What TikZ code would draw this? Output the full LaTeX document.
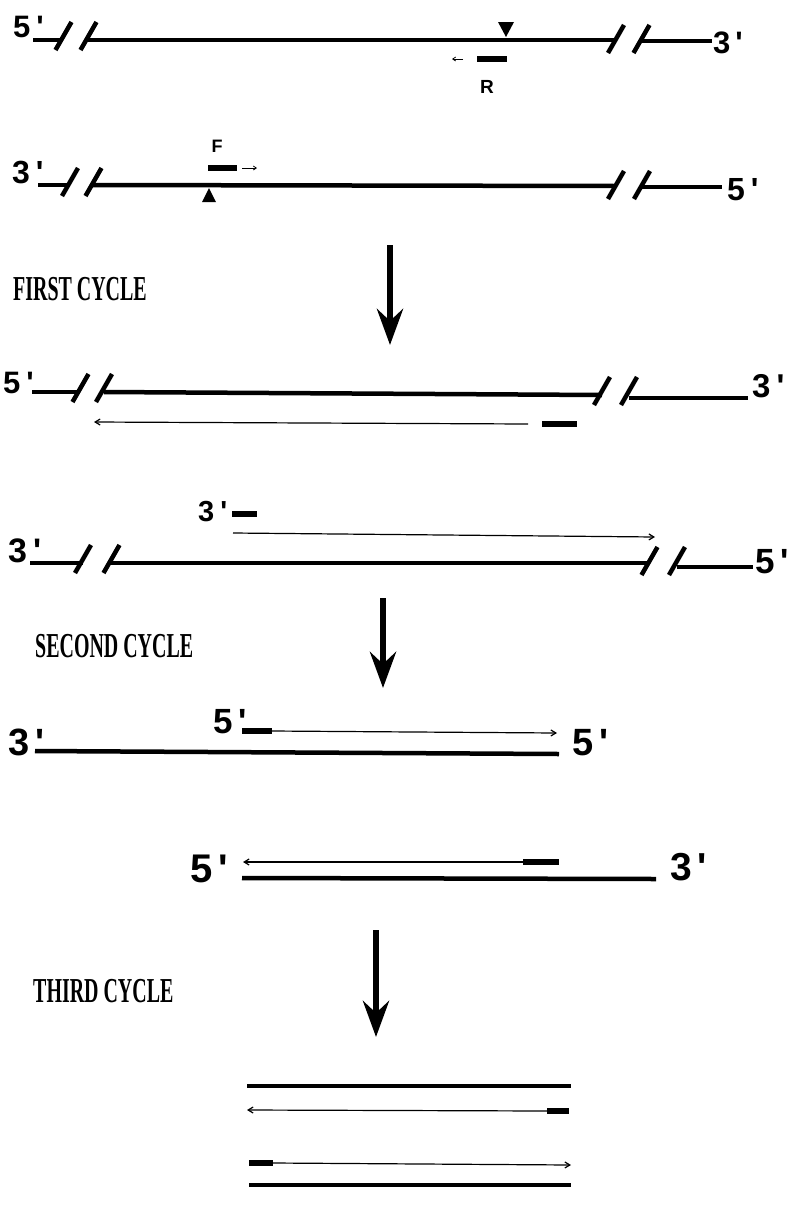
\documentclass[tikz,border=0pt]{standalone}
\usepackage{fontspec}
\usepackage{graphicx}
\usetikzlibrary{arrows.meta,calc}
\newfontfamily\labfont{Liberation Sans}
\newfontfamily\cyclefont{Liberation Serif}
\newcommand\strandlab[2]{{\fontsize{#1}{#1}\selectfont\labfont\bfseries #2}}
\newcommand\cyclelab[1]{\scalebox{0.57}[1]{\fontsize{35}{35}\selectfont\cyclefont\bfseries #1}}
\newcommand\breakat[1]{\draw[breakmark] ($(#1)+(-8,14)$) -- ($(#1)+(8,-14)$);}

\tikzset{
  strand/.style={line width=4.5pt},
  stub/.style={line width=3.5pt},
  breakmark/.style={line width=4.5pt},
  primer/.style={line width=5.5pt},
  newstrand/.style={line width=1.2pt,-{Straight Barb[length=5pt,width=6pt]}},
  tinyarrow/.style={line width=0.8pt,-{Straight Barb[length=3pt,width=4pt]}},
  cyclearrow/.style={line width=6pt,-{Stealth[length=36pt,width=26pt,inset=12pt]}},
  endlabel/.style={inner sep=0pt,anchor=base west},
  cyclelabel/.style={inner sep=0pt,anchor=base west},
  site/.style={fill=black},
}

\begin{document}
\begin{tikzpicture}[x=1pt,y=-1pt]
\useasboundingbox (0,0) rectangle (796,1208);

% ---------- template, top strand ----------
\node[endlabel] (t1l) at (13,37) {\strandlab{31}{5\kern6pt'}};
\node[endlabel] (t1r) at (713,53) {\strandlab{31}{3\kern5pt'}};
\coordinate (t1a) at (33,40);   \coordinate (t1b) at (63,40);
\coordinate (t1c) at (88,40);   \coordinate (t1d) at (616,40);
\coordinate (t1e) at (641,41);  \coordinate (t1f) at (712,41);
\draw[stub] (t1a) -- (t1b);
\draw[strand] (t1c) -- (t1d);
\draw[stub] (t1e) -- (t1f);
\coordinate (t1s1) at (63.5,36); \coordinate (t1s2) at (88.5,36);
\coordinate (t1s3) at (616,39);  \coordinate (t1s4) at (641.5,39);
\breakat{t1s1}\breakat{t1s2}\breakat{t1s3}\breakat{t1s4}
% reverse primer site and primer R
\coordinate (siteR) at (506,37);
\fill[site] (siteR) -- ++(-8,-15) -- ++(16,0) -- cycle;
\coordinate (Ra) at (477,59); \coordinate (Rb) at (507,59);
\draw[primer] (Ra) -- (Rb);
\coordinate (Rt) at (452,59); \coordinate (Rs) at (463,59);
\draw[tinyarrow] (Rs) -- (Rt);
\node[inner sep=0pt] (R) at (487,87) {\strandlab{19}{R}};

% ---------- template, bottom strand ----------
\node[endlabel] (t2l) at (12,183) {\strandlab{32}{3\kern6pt'}};
\node[endlabel] (t2r) at (727,200) {\strandlab{32}{5\kern6pt'}};
\coordinate (t2a) at (38,185);  \coordinate (t2b) at (70,185);
\coordinate (t2c) at (93,185);  \coordinate (t2d) at (616,186);
\coordinate (t2e) at (642,187); \coordinate (t2f) at (722,187);
\draw[stub] (t2a) -- (t2b);
\draw[strand] (t2c) -- (t2d);
\draw[stub] (t2e) -- (t2f);
\coordinate (t2s1) at (70,182);  \coordinate (t2s2) at (93.5,182);
\coordinate (t2s3) at (616,185); \coordinate (t2s4) at (642,185);
\breakat{t2s1}\breakat{t2s2}\breakat{t2s3}\breakat{t2s4}
% forward primer site and primer F
\coordinate (siteF) at (209,188);
\fill[site] (siteF) -- ++(-7,14) -- ++(14,0) -- cycle;
\coordinate (Fa) at (208,168); \coordinate (Fb) at (237,168);
\draw[primer] (Fa) -- (Fb);
\coordinate (Fs) at (242,168); \coordinate (Ft) at (257,168);
\draw[tinyarrow] (Fs) -- (Ft);
\node[inner sep=0pt] (F) at (217,146) {\strandlab{18}{F}};

% ---------- first cycle ----------
\node[cyclelabel] (first) at (13,300) {\cyclelab{FIRST CYCLE}};
\coordinate (ar1a) at (390,245); \coordinate (ar1b) at (390,345);
\draw[cyclearrow] (ar1a) -- (ar1b);

\node[endlabel] (c1l) at (3,393) {\strandlab{31}{5\kern6pt'}};
\node[endlabel] (c1r) at (752,397) {\strandlab{33}{3\kern6pt'}};
\coordinate (c1a) at (32,392);  \coordinate (c1b) at (80,392);
\coordinate (c1c) at (104,392); \coordinate (c1d) at (602,395);
\coordinate (c1e) at (629,398); \coordinate (c1f) at (748,398);
\draw[stub] (c1a) -- (c1b);
\draw[strand] (c1c) -- (c1d);
\draw[stub] (c1e) -- (c1f);
\coordinate (c1s1) at (80.5,388); \coordinate (c1s2) at (104,388);
\coordinate (c1s3) at (602,391);  \coordinate (c1s4) at (629,391);
\breakat{c1s1}\breakat{c1s2}\breakat{c1s3}\breakat{c1s4}
\coordinate (c1pa) at (542,424); \coordinate (c1pb) at (577,424);
\draw[primer] (c1pa) -- (c1pb);
\coordinate (c1na) at (528,424); \coordinate (c1nb) at (94,422);
\draw[newstrand] (c1na) -- (c1nb);

% second template of first cycle
\node[endlabel] (c2l) at (8,562) {\strandlab{34}{3\kern6pt'}};
\node[endlabel] (c2r) at (755,573) {\strandlab{35}{5\kern6pt'}};
\coordinate (c2a) at (30,563);  \coordinate (c2b) at (83,563);
\coordinate (c2c) at (111,563); \coordinate (c2d) at (650,563);
\coordinate (c2e) at (677,567); \coordinate (c2f) at (753,567);
\draw[stub] (c2a) -- (c2b);
\draw[strand] (c2c) -- (c2d);
\draw[stub] (c2e) -- (c2f);
\coordinate (c2s1) at (83,559);  \coordinate (c2s2) at (111.5,559);
\coordinate (c2s3) at (649.5,561); \coordinate (c2s4) at (677,561);
\breakat{c2s1}\breakat{c2s2}\breakat{c2s3}\breakat{c2s4}
\node[endlabel] (c2pl) at (198,521) {\strandlab{29}{3\kern6pt'}};
\coordinate (c2pa) at (232,514); \coordinate (c2pb) at (257,514);
\draw[primer] (c2pa) -- (c2pb);
\coordinate (c2na) at (233,533); \coordinate (c2nb) at (655,537);
\draw[newstrand] (c2na) -- (c2nb);

% ---------- second cycle ----------
\node[cyclelabel] (second) at (35,657) {\cyclelab{SECOND CYCLE}};
\coordinate (ar2a) at (383,598); \coordinate (ar2b) at (383,688);
\draw[cyclearrow] (ar2a) -- (ar2b);

\node[endlabel] (d1l) at (8,755) {\strandlab{38}{3\kern6pt'}};
\node[endlabel] (d1r) at (572,755) {\strandlab{38}{5\kern6pt'}};
\coordinate (d1a) at (35,751); \coordinate (d1b) at (559,754);
\draw[strand] (d1a) -- (d1b);
\node[endlabel] (d1pl) at (213,733) {\strandlab{35}{5\kern6pt'}};
\coordinate (d1pa) at (242,731); \coordinate (d1pb) at (272,731);
\draw[primer] (d1pa) -- (d1pb);
\coordinate (d1nb) at (557,733);
\draw[newstrand] (d1pb) -- (d1nb);

\node[endlabel] (d2l) at (190,882) {\strandlab{40}{5\kern6pt'}};
\node[endlabel] (d2r) at (670,880) {\strandlab{39}{3\kern6pt'}};
\coordinate (d2a) at (242,878); \coordinate (d2b) at (656,879);
\draw[strand] (d2a) -- (d2b);
\coordinate (d2pa) at (523,862); \coordinate (d2pb) at (559,862);
\draw[primer] (d2pa) -- (d2pb);
\coordinate (d2nb) at (243,862);
\draw[newstrand] (d2pa) -- (d2nb);

% ---------- third cycle ----------
\node[cyclelabel] (third) at (33,1002) {\cyclelab{THIRD CYCLE}};
\coordinate (ar3a) at (376,930); \coordinate (ar3b) at (376,1037);
\draw[cyclearrow] (ar3a) -- (ar3b);

\coordinate (e1a) at (247,1086); \coordinate (e1b) at (571,1086);
\draw[strand] (e1a) -- (e1b);
\coordinate (e2pa) at (547,1111); \coordinate (e2pb) at (569,1111);
\draw[primer] (e2pa) -- (e2pb);
\coordinate (e2nb) at (247,1110);
\draw[newstrand] (e2pa) -- (e2nb);

\coordinate (e3pa) at (249,1163); \coordinate (e3pb) at (273,1163);
\draw[primer] (e3pa) -- (e3pb);
\coordinate (e3nb) at (571,1165);
\draw[newstrand] (e3pb) -- (e3nb);
\coordinate (e4a) at (249,1185); \coordinate (e4b) at (571,1185);
\draw[strand] (e4a) -- (e4b);
\end{tikzpicture}
\end{document}
